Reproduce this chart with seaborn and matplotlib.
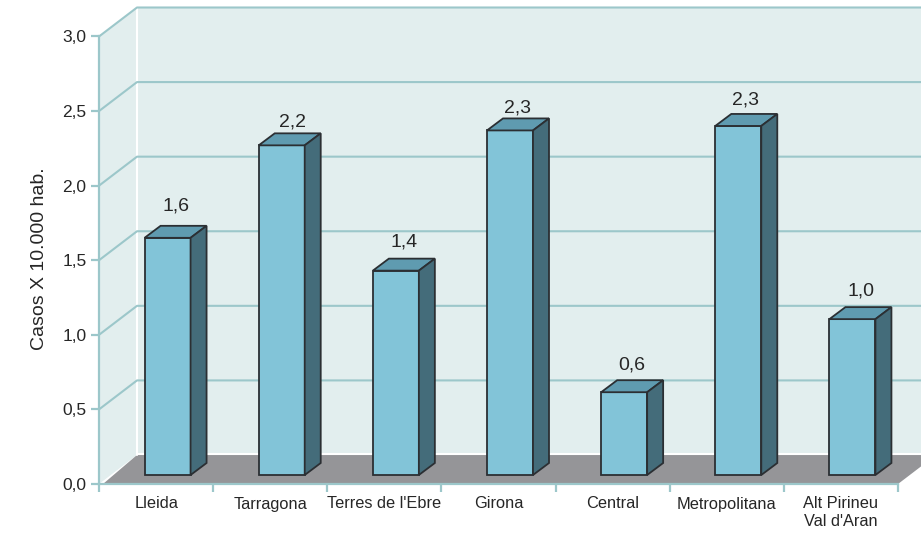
import matplotlib
matplotlib.use("Agg")
import matplotlib.pyplot as plt
from matplotlib.patches import Polygon
import numpy as np
import pandas as pd
import seaborn as sns

# Values
regions = ["Lleida", "Tarragona", "Terres de l'Ebre", "Girona", "Central", "Metropolitana", "Alt Pirineu\nVal d'Aran"]
cases = [1.59, 2.21, 1.37, 2.31, 0.555, 2.34, 1.045]
value_labels = ["1,6", "2,2", "1,4", "2,3", "0,6", "2,3", "1,0"]
y_ticks = [0.0, 0.5, 1.0, 1.5, 2.0, 2.5, 3.0]
y_tick_labels = ["0,0", "0,5", "1,0", "1,5", "2,0", "2,5", "3,0"]

sns.set_style("white")
plt.rcParams["font.family"] = ["Liberation Sans", "DejaVu Sans"]

GRID = "#9cc7ca"
WALL = "#e2eeee"
FLOOR = "#959598"
FRONT = "#82c4d8"
TOP = "#5f9bb0"
SIDE = "#446c7a"
EDGE = "#2b2f33"
TEXT = "#262626"

# label nudges in pixels, the labels sit unevenly above the bars
label_nudge_x = [0, 3, 0, -1, 0, -1, 1]
label_gap = [11, 3, 8, 2, 7, 5, 8]

W, H = 921, 533
fig = plt.figure(figsize=(W / 100, H / 100), dpi=100)
ax = fig.add_axes([99 / W, 1 - 484 / H, (898 - 99) / W, (484 - 36.5) / H])
ax.set_xlim(-0.5, 6.5)
ax.set_ylim(0, 3)

# pixel sizes converted to data units
px_x = 1 / ((898 - 99) / 7)
px_y = 1 / ((484 - 36.5) / 3)
wall_dx, wall_dy = 38 * px_x, 29 * px_y
bar_dx, bar_dy = 16 * px_x, 12 * px_y
bar_shift = 11.5 * px_x
bar_base = 9 * px_y

# walls and floor
x0, x1 = -0.5, 6.5
ax.add_patch(Polygon([(x0, 0), (x0, 3), (x0 + wall_dx, 3 + wall_dy), (x1 + wall_dx, 3 + wall_dy), (x1 + wall_dx, wall_dy), (x0 + wall_dx, wall_dy)],
                     fc=WALL, ec="none", clip_on=False, zorder=0))
ax.add_patch(Polygon([(x0 + 4 * px_x, 0), (x0 + wall_dx, wall_dy), (x1 + wall_dx, wall_dy), (x1, 0)],
                     fc=FLOOR, ec="none", clip_on=False, zorder=0.5))
ax.plot([x0 + wall_dx, x0 + wall_dx], [wall_dy, 3 + wall_dy], color="white", lw=1.5, clip_on=False, zorder=0.6)
ax.plot([x0 + wall_dx, x1 + wall_dx], [wall_dy + 1 * px_y, wall_dy + 1 * px_y], color="white", lw=1.5, clip_on=False, zorder=0.6)

# grid lines: diagonal on the side wall, then along the back wall
for t in y_ticks[1:]:
    ax.plot([x0, x0 + wall_dx, x1 + wall_dx], [t, t + wall_dy, t + wall_dy], color=GRID, lw=1.5, clip_on=False, zorder=0.8)

# bars
df = pd.DataFrame({"region": regions, "cases": cases})
sns.barplot(data=df, x="region", y="cases", ax=ax, width=46 * px_x, color=FRONT, saturation=1,
            bottom=bar_base, edgecolor=EDGE, linewidth=1.3, zorder=3)

for i, patch in enumerate(ax.patches[-len(regions):]):
    patch.set_x(patch.get_x() + bar_shift)
    patch.set_clip_on(False)
    left = patch.get_x()
    right = left + patch.get_width()
    low = patch.get_y()
    high = low + patch.get_height()
    ax.add_patch(Polygon([(left, high), (left + bar_dx, high + bar_dy), (right + bar_dx, high + bar_dy), (right, high)],
                         fc=TOP, ec=EDGE, lw=1.3, clip_on=False, zorder=3))
    ax.add_patch(Polygon([(right, low), (right + bar_dx, low + bar_dy), (right + bar_dx, high + bar_dy), (right, high)],
                         fc=SIDE, ec=EDGE, lw=1.3, clip_on=False, zorder=3))
    ax.annotate(value_labels[i], (left + patch.get_width() / 2 + bar_dx / 2, high + bar_dy),
                xytext=(label_nudge_x[i] * 0.72, label_gap[i] * 0.72), textcoords="offset points",
                ha="center", va="bottom", fontsize=14, color=TEXT, zorder=4)

# axes
sns.despine(ax=ax)
for side in ["left", "bottom"]:
    ax.spines[side].set_color(GRID)
    ax.spines[side].set_linewidth(1.6)
    ax.spines[side].set_zorder(2)
ax.set_yticks(y_ticks)
ax.set_yticklabels(y_tick_labels, fontsize=12.5, color=TEXT)
ax.set_xticks(np.arange(-0.5, 7, 1))
ax.set_xticklabels([])
ax.set_xticks(np.arange(0, 7), labels=regions, minor=True, fontsize=11.8, color=TEXT)
ax.tick_params(axis="x", which="major", length=6, width=1.6, color=GRID, bottom=True)
ax.tick_params(axis="x", which="minor", length=0, pad=9, bottom=True)
ax.tick_params(axis="y", length=6, width=1.6, color=GRID, left=True, pad=3)
ax.set_xlabel("")
ax.set_ylabel("Casos X 10.000 hab.", fontsize=14, color=TEXT)
ax.yaxis.set_label_coords(-51 / (898 - 99), 0.503, transform=ax.transAxes)

fig.savefig("out.png", dpi=100, facecolor="white")
